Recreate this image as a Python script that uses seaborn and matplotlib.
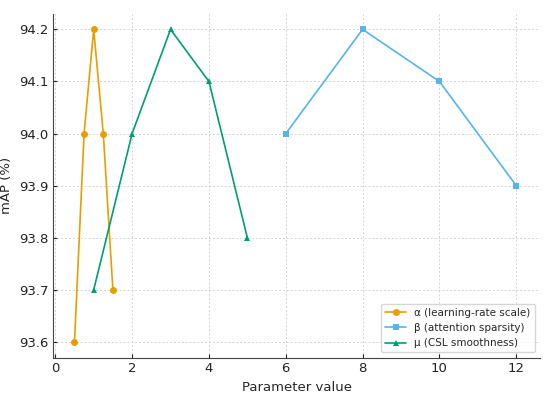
import numpy as np
import pandas as pd
import matplotlib
matplotlib.use("Agg")
import matplotlib.pyplot as plt
import seaborn as sns

# Valores
alpha_x = [0.5, 0.75, 1.0, 1.25, 1.5]
alpha_y = [93.6, 94.0, 94.2, 94.0, 93.7]

beta_x = [6, 8, 10, 12]
beta_y = [94.0, 94.2, 94.1, 93.9]

mu_x = [1, 2, 3, 4, 5]
mu_y = [93.7, 94.0, 94.2, 94.1, 93.8]

labels = ["α (learning-rate scale)", "β (attention sparsity)", "μ (CSL smoothness)"]
colors = ["#E69F00", "#56B4E9", "#009E73"]
markers = ["o", "s", "^"]

df = pd.concat([
    pd.DataFrame({"x": alpha_x, "y": alpha_y, "param": labels[0]}),
    pd.DataFrame({"x": beta_x, "y": beta_y, "param": labels[1]}),
    pd.DataFrame({"x": mu_x, "y": mu_y, "param": labels[2]}),
])

sns.set_style("ticks")
plt.rcParams["font.family"] = ["DejaVu Sans"]

fig, ax = plt.subplots(figsize=(5.5, 3.93), dpi=100)
for lab, c, m in zip(labels, colors, markers):
    sub = df[df["param"] == lab]
    sns.lineplot(data=sub, x="x", y="y", color=c, marker=m, markersize=5,
                 markeredgewidth=0, linewidth=1.2, label=lab, ax=ax, sort=False)

ax.set_xlim(-0.05, 12.62)
ax.set_ylim(93.57, 94.23)
ax.set_xticks([0, 2, 4, 6, 8, 10, 12])
ax.set_yticks([93.6, 93.7, 93.8, 93.9, 94.0, 94.1, 94.2])
ax.yaxis.set_major_formatter(matplotlib.ticker.FormatStrFormatter("%.1f"))
ax.grid(True, linestyle=(0, (2, 2)), color="#d4d4d4", linewidth=0.7)
ax.set_axisbelow(True)
ax.tick_params(direction="in", length=3, labelsize=9.5, colors="#222222")
for s in ["top", "right"]:
    ax.spines[s].set_visible(False)
for s in ["left", "bottom"]:
    ax.spines[s].set_color("#444444")
ax.set_xlabel("Parameter value", fontsize=9.5)
ax.set_ylabel("mAP (%)", fontsize=9.5)
ax.legend(loc="lower right", fontsize=7.5, frameon=True)

plt.subplots_adjust(left=0.097, right=0.982, top=0.965, bottom=0.09)
plt.savefig("out.png", dpi=100)
